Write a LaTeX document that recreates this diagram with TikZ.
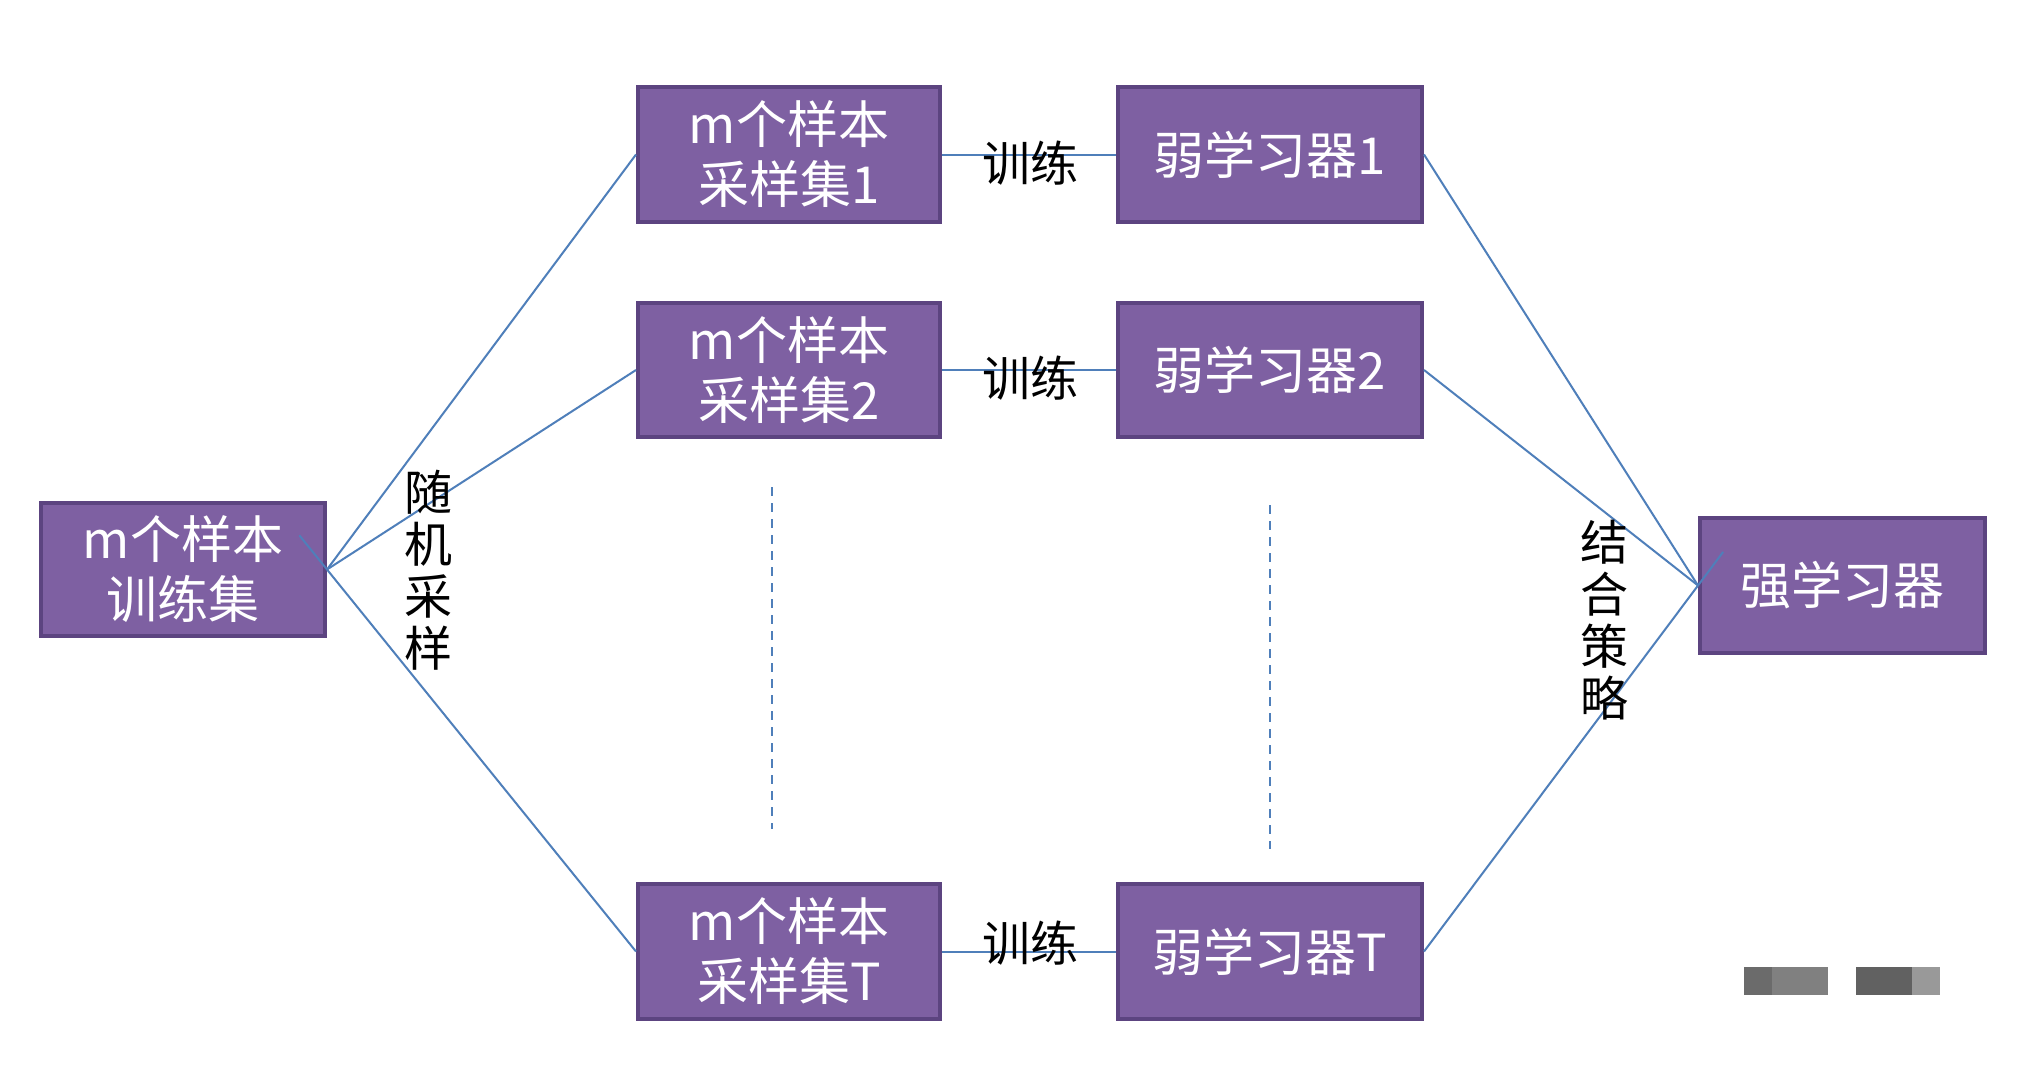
\documentclass[tikz,border=0pt]{standalone}
\usepackage{fontspec}
\newfontfamily\cjk{Noto Sans CJK SC}
\begin{document}
\begin{tikzpicture}[x=1pt,y=-1pt,
  box/.style={draw=boxborder,fill=boxfill,line width=4pt,inner sep=0pt,
    text=white,font=\cjk\fontsize{51}{60}\selectfont,align=center},
  conn/.style={draw=linkblue,line width=2pt},
  lbl/.style={font=\cjk\fontsize{48}{52}\selectfont,text=black,inner sep=0pt,align=center},
  vdash/.style={draw=linkblue,line width=2pt,dash pattern=on 9pt off 7pt}]
\definecolor{boxfill}{HTML}{7E60A2}
\definecolor{boxborder}{HTML}{5C4480}
\definecolor{linkblue}{HTML}{4F7FBA}
\useasboundingbox[fill=white] (0,0) rectangle (2032,1074);

% boxes
\node[box,minimum width=284pt,minimum height=133pt] (train) at (183,569.5) {m个样本\\训练集};
\node[box,minimum width=302pt,minimum height=135pt] (s1) at (789,154.5) {m个样本\\采样集1};
\node[box,minimum width=302pt,minimum height=134pt] (s2) at (789,370) {m个样本\\采样集2};
\node[box,minimum width=302pt,minimum height=135pt] (sT) at (789,951.5) {m个样本\\采样集T};
\node[box,minimum width=304pt,minimum height=135pt] (w1) at (1270,154.5) {弱学习器1};
\node[box,minimum width=304pt,minimum height=134pt] (w2) at (1270,370) {弱学习器2};
\node[box,minimum width=304pt,minimum height=135pt] (wT) at (1270,951.5) {弱学习器T};
\node[box,minimum width=285pt,minimum height=135pt] (strong) at (1842.5,585.5) {强学习器};

% connectors: sampling
\draw[conn] (train.east) -- (s1.west);
\draw[conn] (train.east) -- (s2.west);
\draw[conn,shorten <=-44pt] (train.east) -- (sT.west);
% training
\draw[conn] (s1.east) -- (w1.west);
\draw[conn] (s2.east) -- (w2.west);
\draw[conn] (sT.east) -- (wT.west);
% combining
\draw[conn] (w1.east) -- (strong.west);
\draw[conn] (w2.east) -- (strong.west);
\draw[conn,shorten >=-42pt] (wT.east) -- (strong.west);

% labels
\node[lbl] (t1) at (1030,163) {训练};
\node[lbl] (t2) at (1030,378) {训练};
\node[lbl] (tT) at (1030,943) {训练};
\node[lbl] (rs) at (428,570) {随\\机\\采\\样};
\node[lbl] (cs) at (1604,620) {结\\合\\策\\略};

% dashed ellipsis lines
\coordinate (d1a) at (772,487);
\coordinate (d1b) at (772,829);
\coordinate (d2a) at (1270,505);
\coordinate (d2b) at (1270,849);
\draw[vdash] (d1a) -- (d1b);
\draw[vdash] (d2a) -- (d2b);

% gray blocks
\fill[black!58] (1744,967) rectangle (1772,995);
\fill[black!50] (1772,967) rectangle (1828,995);
\fill[black!62] (1856,967) rectangle (1912,995);
\fill[black!40] (1912,967) rectangle (1940,995);
\end{tikzpicture}
\end{document}
